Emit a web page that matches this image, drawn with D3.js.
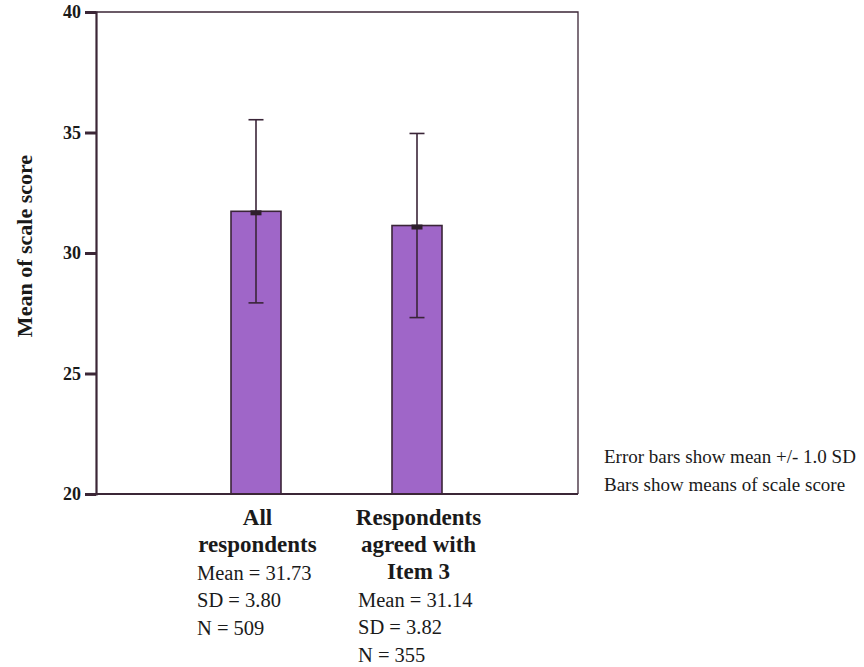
<!DOCTYPE html>
<html>
<head>
<meta charset="utf-8">
<script src="https://cdn.jsdelivr.net/npm/d3@7"></script>
<style>
  html, body { margin: 0; padding: 0; background: #ffffff; }
  svg { display: block; }
  text { font-family: "Liberation Serif", "Times New Roman", serif; }
</style>
</head>
<body>
<svg id="chart" width="864" height="667"></svg>
<script>
const categories = ["All respondents", "Respondents agreed with Item 3"];
const labelLines = [["All", "respondents"], ["Respondents", "agreed with", "Item 3"]];
const means = [31.73, 31.14];
const sds = [3.80, 3.82];
const ns = [509, 355];
const yTicks = [20, 25, 30, 35, 40];
const yTitle = "Mean of scale score";
const notes = ["Error bars show mean +/- 1.0 SD", "Bars show means of scale score"];

const svg = d3.select("#chart");
const mLeft = 96, mRight = 578, mTop = 12, mBottom = 494;

const y = d3.scaleLinear().domain([20, 40]).range([mBottom, mTop]);
const x = d3.scaleBand().domain(categories).range([175.5, 497.5]);
const barW = 50;
const axisColor = "#3b2636";
const markColor = "#3a2538";

// frame (top & right)
svg.append("path")
  .attr("d", `M${mLeft},${mTop}H${mRight}V${mBottom}`)
  .attr("fill", "none").attr("stroke", axisColor).attr("stroke-width", 1.3);

// bars
const data = categories.map((c, i) => ({c, m: means[i], sd: sds[i], n: ns[i], lines: labelLines[i]}));
const cxOf = d => x(d.c) + x.bandwidth() / 2;
svg.selectAll("rect.bar").data(data).join("rect")
  .attr("class", "bar")
  .attr("x", d => cxOf(d) - barW / 2)
  .attr("width", barW)
  .attr("y", d => y(d.m))
  .attr("height", d => y(20) - y(d.m))
  .attr("fill", "#9f66c8")
  .attr("stroke", markColor).attr("stroke-width", 1.6);

// error bars
const eb = svg.selectAll("g.eb").data(data).join("g").attr("class", "eb");
eb.append("line")
  .attr("x1", cxOf).attr("x2", cxOf)
  .attr("y1", d => y(d.m + d.sd)).attr("y2", d => y(d.m - d.sd))
  .attr("stroke", markColor).attr("stroke-width", 1.6);
[1, -1].forEach(s => {
  eb.append("line")
    .attr("x1", d => cxOf(d) - 7.5).attr("x2", d => cxOf(d) + 7.5)
    .attr("y1", d => y(d.m + s * d.sd)).attr("y2", d => y(d.m + s * d.sd))
    .attr("stroke", markColor).attr("stroke-width", 1.6);
});
eb.append("rect")
  .attr("x", d => cxOf(d) - 5.5).attr("width", 11)
  .attr("y", d => y(d.m) - 1).attr("height", 5)
  .attr("fill", "#2e1f2c");

// y axis
const yAxis = d3.axisLeft(y).tickValues(yTicks).tickSize(11).tickPadding(4);
const ga = svg.append("g").attr("transform", `translate(${mLeft},0)`).call(yAxis);
ga.select(".domain").attr("stroke", axisColor).attr("stroke-width", 2.2);
ga.selectAll(".tick line").attr("stroke", axisColor).attr("stroke-width", 3);
ga.selectAll(".tick text")
  .attr("font-size", 18).attr("font-weight", "bold").attr("fill", "#1a1a1a");

// x axis baseline
svg.append("line")
  .attr("x1", mLeft).attr("x2", mRight).attr("y1", mBottom).attr("y2", mBottom)
  .attr("stroke", axisColor).attr("stroke-width", 2.2);

// y title
svg.append("text")
  .attr("transform", `translate(32,${(mTop + mBottom) / 2 - 7}) rotate(-90)`)
  .attr("text-anchor", "middle")
  .attr("font-size", 22).attr("font-weight", "bold").attr("fill", "#1a1a1a")
  .text(yTitle);

// category labels
const boldH = 27, statH = 27.5;
data.forEach(d => {
  const cx = cxOf(d);
  d.lines.forEach((t, j) => {
    svg.append("text")
      .attr("x", cx + 1.5).attr("y", 525 + j * boldH)
      .attr("text-anchor", "middle")
      .attr("font-size", 23).attr("font-weight", "bold").attr("fill", "#1a1a1a")
      .text(t);
  });
  const stats = ["Mean = " + d.m.toFixed(2), "SD = " + d.sd.toFixed(2), "N = " + d.n];
  const y0 = 525 + (d.lines.length - 1) * boldH + statH;
  stats.forEach((t, j) => {
    svg.append("text")
      .attr("x", cx - 59).attr("y", y0 + j * statH)
      .attr("font-size", 20.5).attr("fill", "#1a1a1a")
      .text(t);
  });
});

// notes
notes.forEach((t, j) => {
  svg.append("text")
    .attr("x", 604).attr("y", 463 + j * 28)
    .attr("font-size", 19).attr("fill", "#1a1a1a")
    .text(t);
});
</script>
</body>
</html>
